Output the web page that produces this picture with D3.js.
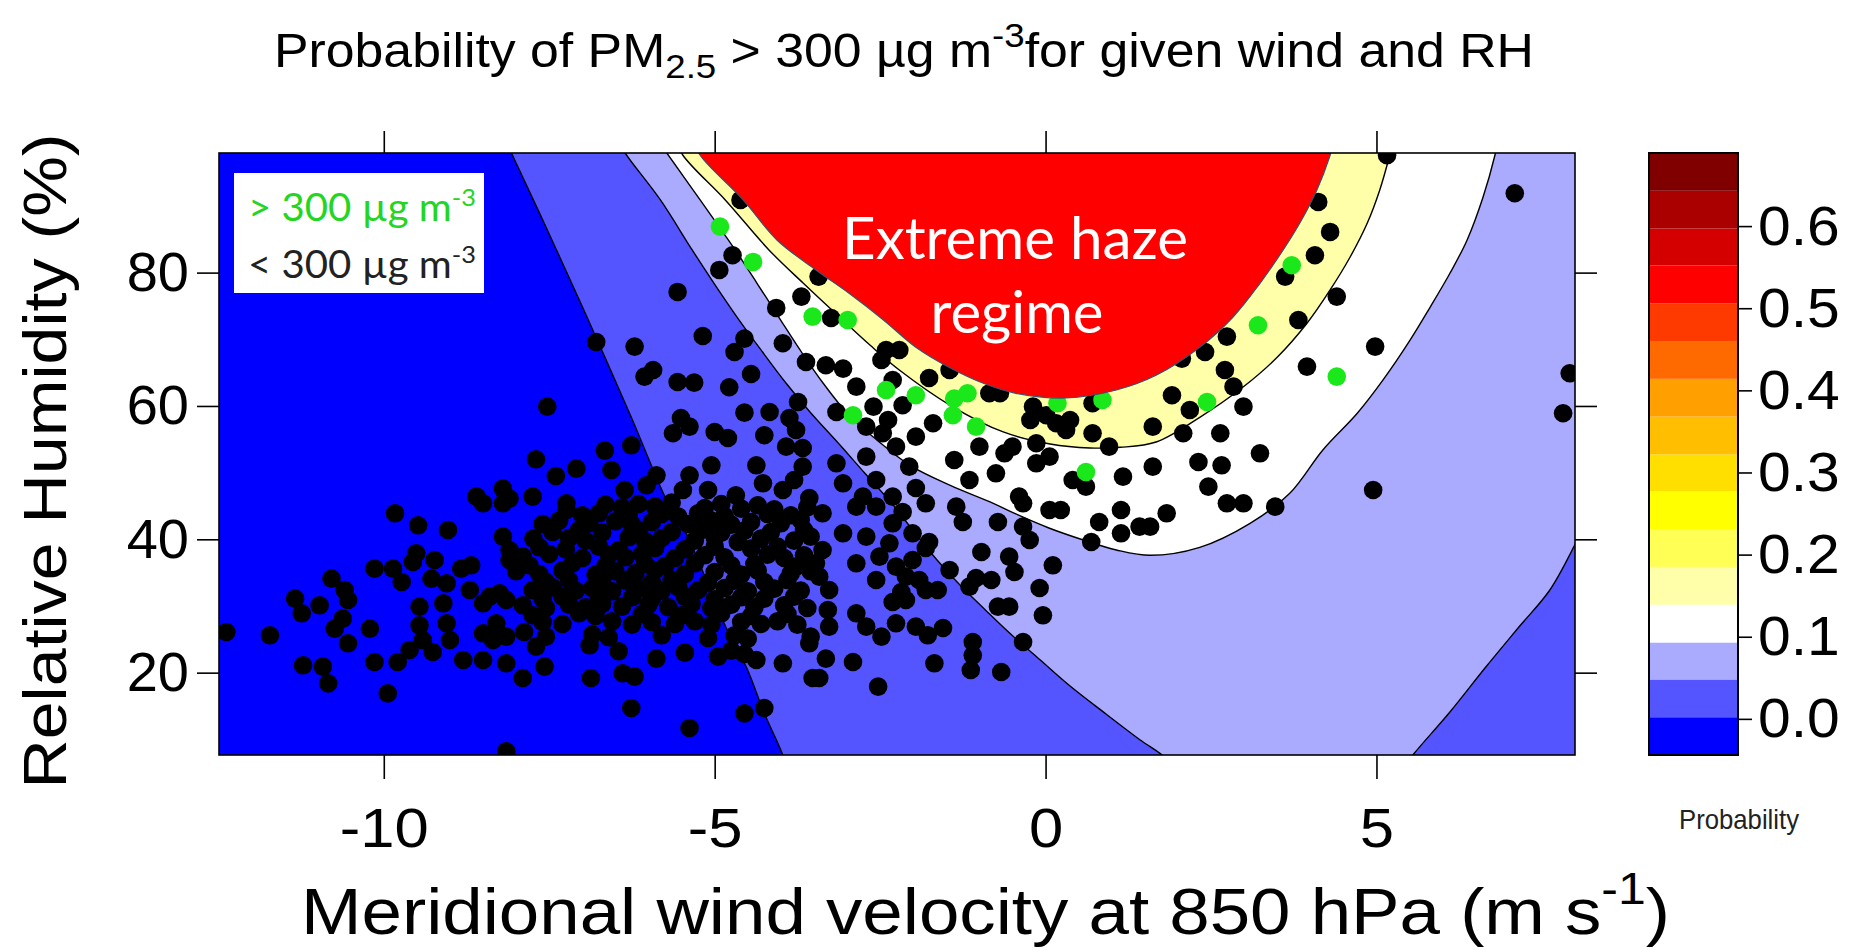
<!DOCTYPE html>
<html>
<head>
<meta charset="utf-8">
<script src="https://cdn.jsdelivr.net/npm/d3@7"></script>
<style>
  body { margin: 0; background: #fff; }
  svg text { font-family: "Liberation Sans", Arial, sans-serif; }
</style>
</head>
<body>
<div id="haze_viz"></div>
<script>

// probability contours, [wind (m/s), RH (%)]
var contour00 = [[-8.2,100.5],[-8.07,97.9],[-7.39,83.4],[-6.82,70.9],[-6.26,58.3],[-5.69,45.1],[-5.43,40.9],[-4.83,26.8],[-4.52,20.8],[-4.25,13.9],[-3.97,7.6],[-3.9,5]];
var contour05left = [[-6.5,100.5],[-6.35,97.9],[-5.82,90.9],[-5.34,83.4],[-5.01,78.4],[-4.66,73.3],[-4.30,68.4],[-3.92,63.4],[-3.56,59.1],[-3.13,54.4],[-2.73,49.9],[-2.30,45.1],[-1.97,40.9],[-1.64,36.9],[-1.29,33.1],[-0.91,29.4],[-0.54,25.9],[-0.08,21.9],[0.37,18.0],[0.90,13.9],[1.43,9.9],[1.81,7.2],[1.95,5]];
var contour05right = [[5.35,5],[5.55,7.65],[6.11,14.1],[6.64,20.7],[7.14,26.7],[7.62,32.4],[8.01,39.4],[8.22,43.6]];
var contour10 = [[-5.9,100.5],[-5.72,97.9],[-5.22,90.9],[-4.69,83.4],[-4.36,78.4],[-4.03,73.3],[-3.71,68.4],[-3.36,63.4],[-2.97,58.6],[-2.55,54.9],[-2.05,51.1],[-1.44,48.1],[-0.79,45.4],[-0.45,43.8],[0.05,41.7],[0.57,39.9],[1.07,38.4],[1.58,37.6],[2.33,38.8],[3.09,42.4],[3.69,46.9],[4.19,53.4],[4.71,58.9],[5.10,63.9],[5.51,69.9],[5.81,74.8],[6.11,79.9],[6.37,84.9],[6.61,91.3],[6.79,97.6],[6.85,100.5]];
var contour15 = [[-5.62,100.5],[-5.48,97.6],[-4.84,90.9],[-4.18,83.4],[-3.66,78.4],[-3.10,73.2],[-2.65,69.1],[-2.21,65.4],[-1.44,60.1],[-0.64,56.1],[0.07,54.3],[0.67,53.7],[1.13,53.8],[1.67,54.6],[2.33,58.3],[2.98,62.8],[3.50,67.3],[3.95,72.4],[4.30,77.4],[4.60,82.3],[4.86,87.4],[5.05,92.4],[5.20,97.6],[5.27,100.5]];
var hazeEdge = [[-5.36,100.5],[-5.22,97.6],[-4.57,90.9],[-4.06,84.9],[-3.47,80.4],[-2.97,76.9],[-2.45,72.9],[-1.96,68.8],[-1.46,65.8],[-0.94,63.4],[-0.45,61.9],[0.31,61.2],[1.07,62.4],[1.67,64.6],[2.33,68.8],[2.83,73.3],[3.24,78.4],[3.59,83.4],[3.84,87.4],[4.10,92.4],[4.30,97.6],[4.38,100.5]];

// days with PM2.5 < 300
var blackPts = [
  [-4.73,82.6],[-4.93,80.4],[-5.56,77.1],[-3.69,76.4],[-4.07,74.7],[-5.18,70.5],[-6.79,69.6],[-6.21,68.9],[-4.55,70.1],[-4.70,68.1],
  [-3.97,69.4],[-3.62,66.6],[-5.93,65.4],[-6.06,64.4],[-5.56,63.6],[-5.31,63.5],[-4.45,64.8],[-4.78,62.8],[-7.53,59.9],[-4.55,59.0],
  [-3.74,60.6],[-4.17,59.1],[-5.51,58.2],[-5.38,56.9],[-5.63,55.9],[-5.00,56.1],[-4.80,55.2],[-4.25,55.6],[-3.87,58.2],[-3.77,56.4],
  [-3.92,53.9],[-3.67,53.7],[-6.26,54.1],[-6.66,53.3],[-7.70,52.0],[-7.09,50.6],[-7.40,49.5],[-6.56,50.4],[-5.05,51.1],[-4.37,51.1],
  [-5.88,49.6],[-5.38,49.6],[-3.67,50.9],[-7.75,46.4],[-7.24,45.4],[-6.36,47.4],[-6.03,48.1],[-5.48,47.4],[-5.10,47.4],[-4.68,46.6],
  [-4.27,48.4],[-3.97,47.4],[-3.57,46.2],[-3.80,48.9],
  [-3.24,73.2],[-2.41,68.4],[-2.21,68.4],[-2.48,66.9],[-3.32,66.1],[-3.06,65.6],[-2.86,62.9],[-2.31,63.9],[-1.76,64.2],[-3.16,59.1],
  [-2.71,56.9],[-2.38,57.9],[-2.16,60.1],[-0.85,61.9],[-1.70,57.4],[-1.96,55.4],[-2.46,55.9],[-2.26,53.9],[-2.71,52.4],[-3.16,51.4],
  [-2.06,50.9],[-3.06,48.4],[-2.56,48.9],[-2.76,46.4],[-2.31,46.4],[-1.96,47.7],[-1.38,51.9],[-1.00,53.9],[-0.75,49.9],[-1.15,48.9],
  [-0.62,52.9],[-0.50,53.9],[-0.40,46.4],[-0.19,59.9],[0.01,58.6],[0.16,57.4],[0.31,56.4],[-0.14,54.4],[0.06,52.4],[-0.14,51.4],
  [0.71,60.4],[0.71,55.9],[0.96,53.9],[0.41,48.9],[0.61,47.9],[1.17,49.4],[1.62,50.9],[-1.45,65.4],
  [-4.61,90.9],[-3.43,79.4],[-0.69,61.9],[-2.60,59.9],[-0.23,57.9],[0.37,57.9],[1.62,56.9],
  [5.16,97.6],[7.09,91.9],[4.12,90.6],[4.30,86.1],[4.07,82.6],[3.62,79.4],[4.40,76.4],[3.82,72.9],[2.74,70.4],[2.41,68.1],
  [4.98,68.9],[7.92,64.9],[7.82,58.9],[3.95,65.9],[2.06,67.1],[2.71,65.4],[2.84,62.9],[1.91,61.6],[2.18,59.4],[2.99,59.9],
  [2.08,55.9],[2.64,55.9],[3.24,52.9],[2.31,51.6],[2.66,51.1],[2.46,47.9],[2.74,45.4],[2.99,45.4],[3.47,44.9],[1.83,43.9],
  [4.95,47.4],[1.58,41.9],
  [-0.34,45.4],[0.06,44.4],[0.23,44.4],[1.14,44.4],[0.81,42.6],[1.42,41.9],[1.14,40.9],[0.69,39.6],[-0.72,42.6],[-1.25,42.6],
  [-0.34,41.9],[-0.24,39.9],[-0.97,38.1],[-0.55,37.4],[-0.47,35.1],[0.11,36.1],[-0.09,32.7],[-1.45,35.4],[-1.05,34.2],[-0.82,33.9],
  [-1.15,32.9],[-0.72,29.9],[-0.55,29.9],[-0.04,28.6],[-0.34,24.6],[-1.10,24.6],[-1.10,22.6],[-1.13,20.4],[-0.67,20.1],[-1.68,21.4],
  [-2.53,17.9],[-2.91,21.6],[-3.32,22.1],[-3.42,19.2],[-1.55,26.7],[-1.78,25.6],[-2.26,27.4],[-2.48,25.4],[-2.71,26.9],[-2.86,28.9],
  [-2.31,30.6],[-2.11,30.9],[-3.27,26.9],[-3.29,29.4],[-3.27,32.4],[-1.81,32.4],[-1.63,32.4],[-1.91,33.9],[-2.11,34.4],[-2.56,33.9],
  [-2.86,36.4],[-2.51,37.4],[-2.26,35.9],[-2.01,36.9],[-1.81,38.7],[-1.76,39.6],[-2.01,40.9],[-2.31,42.4],[-2.71,40.4],[-3.06,40.9],
  [-3.37,43.9],[-2.86,44.9],[-2.56,44.9],[-2.16,44.1],[-1.81,45.4],[-1.35,44.9],[-3.37,38.4],[-3.47,36.4],[-3.42,34.4],[-2.36,39.4],
  [-1.96,26.9],[-2.18,32.1],
  [-7.74,40.1],[-7.24,44.4],[-7.88,26.1],[-7.90,19.2],[-6.87,19.2],[-6.39,19.9],[-6.21,19.4],[-6.26,14.7],[-5.38,11.7],[-4.55,13.9],
  [-4.25,14.7],[-4.95,22.4],[-5.88,22.1],[-6.89,24.1],[-7.57,20.9],[-7.70,23.9],[-3.52,19.2],[-3.97,21.4],[-3.57,24.4],[-4.37,21.9],
  [-6.65,45.2],[-6.40,44.8],[-6.15,45.3],[-5.90,44.9],[-5.65,45.5],[-5.15,44.7],[-4.90,45.3],[-4.60,44.6],[-4.35,45.1],[-4.10,44.5],[-3.60,44.8],
  [-7.00,43.6],[-6.75,43.9],[-6.30,43.5],[-5.80,43.8],[-5.55,43.4],[-5.25,43.9],[-4.85,43.5],[-4.20,43.8],[-3.85,43.6],
  [-7.60,42.3],[-7.35,42.8],[-6.90,42.4],[-6.50,42.7],[-6.25,42.2],[-5.95,42.6],[-5.40,42.3],[-5.05,42.8],[-4.75,42.2],[-4.45,42.6],[-4.00,42.4],[-3.70,42.9],
  [-7.45,41.1],[-7.05,41.4],[-6.70,41.0],[-6.15,41.3],[-5.65,41.1],[-5.20,41.4],[-4.90,41.0],[-4.55,41.3],[-4.15,41.1],[-3.65,41.4],
  [-7.20,40.2],[-6.95,39.8],[-6.30,40.3],[-6.05,39.7],[-5.80,40.2],[-5.30,39.8],[-5.00,40.3],[-4.65,39.6],[-4.30,40.1],[-3.80,39.8],[-3.55,40.4],
  [-7.65,38.8],[-7.25,38.5],[-6.75,38.9],[-6.45,38.4],[-5.90,38.7],[-5.45,38.5],[-5.00,38.9],[-4.45,38.6],[-4.05,38.9],
  [-7.90,37.4],[-7.50,37.8],[-7.00,37.2],[-6.60,37.7],[-6.35,37.3],[-6.10,37.8],[-5.60,37.2],[-5.15,37.6],[-4.85,37.3],[-4.20,37.7],[-3.95,37.2],[-3.65,37.6],
  [-7.80,36.1],[-7.15,36.4],[-6.65,36.0],[-6.05,36.3],[-5.75,36.0],[-5.30,36.4],[-4.75,36.1],[-4.40,36.3],[-3.75,36.0],
  [-8.00,35.2],[-7.65,34.8],[-7.30,35.3],[-6.80,34.7],[-6.50,35.2],[-6.20,34.9],[-5.90,35.4],[-5.45,34.8],[-5.00,35.1],[-4.60,34.7],[-4.35,35.3],[-3.85,34.9],[-3.55,35.2],
  [-7.55,33.6],[-7.20,33.9],[-6.70,33.5],[-6.35,33.8],[-5.95,33.6],[-5.65,33.9],[-5.10,33.5],[-4.70,33.8],[-4.25,33.6],[-3.90,33.9],
  [-7.75,32.4],[-7.45,32.8],[-7.10,32.3],[-6.85,32.7],[-6.55,32.2],[-6.15,32.6],[-5.80,32.3],[-5.55,32.8],[-5.25,32.4],[-4.85,32.7],[-4.50,32.2],[-4.10,32.6],[-3.70,32.3],
  [-7.60,31.1],[-7.30,31.4],[-6.75,31.0],[-6.25,31.3],[-5.95,31.1],[-5.45,31.4],[-5.00,31.0],[-4.60,31.3],[-4.25,31.1],[-3.80,31.4],
  [-7.90,30.1],[-7.55,29.7],[-7.20,30.2],[-6.95,29.8],[-6.70,30.3],[-6.40,29.9],[-6.00,30.2],[-5.70,29.8],[-5.35,30.3],[-5.05,29.7],[-4.75,30.2],[-4.40,29.8],[-3.95,30.1],[-3.60,29.7],
  [-7.75,28.6],[-7.05,28.9],[-6.80,28.5],[-6.10,28.8],[-5.50,28.6],[-4.90,28.9],[-4.45,28.5],[-3.90,28.8],
  [-7.60,27.6],[-7.30,27.3],[-6.55,27.7],[-6.25,27.2],[-5.95,27.6],[-5.60,27.3],[-5.30,27.7],[-5.05,27.2],[-4.60,27.6],[-4.30,27.3],[-4.05,27.7],[-3.75,27.2],
  [-7.55,25.4],[-6.85,25.7],[-6.60,25.3],[-5.80,25.6],[-5.10,25.2],[-4.70,25.6],[-4.50,25.1],[-3.55,25.4],
  [-6.45,23.2],[-5.45,23.0],[-4.75,23.3],[-4.55,22.8],
  [-12.38,26.1],[-11.72,25.6],[-9.83,43.9],[-9.48,42.1],[-9.03,41.4],[-8.20,40.4],[-8.10,38.4],[-8.10,36.9],[-9.51,37.9],[-9.56,36.6],
  [-9.23,36.9],[-10.14,35.6],[-9.86,35.6],[-9.73,33.6],[-9.28,34.1],[-9.05,33.4],[-8.83,35.6],[-8.68,36.1],[-10.79,34.1],[-10.59,32.4],
  [-10.54,30.9],[-11.34,31.1],[-11.24,28.9],[-10.97,30.1],[-10.62,28.1],[-10.74,26.6],[-10.54,24.4],[-10.21,26.6],[-11.22,21.1],[-10.92,20.9],
  [-10.84,18.4],[-10.14,21.6],[-9.94,16.9],[-9.79,21.6],[-9.61,23.4],[-9.46,29.9],[-9.46,27.1],[-9.41,24.9],[-9.26,23.1],[-9.10,30.4],
  [-9.05,27.4],[-9.00,24.9],[-8.80,21.9],[-8.70,32.4],[-8.50,30.4],[-8.40,31.4],[-8.25,31.9],[-8.15,30.9],[-8.50,25.9],[-8.30,27.4],
  [-8.35,24.9],[-8.15,25.4],[-8.50,21.9],[-8.15,21.4],[-8.50,45.4],[-8.20,45.4],[-8.15,8.2],[-8.60,46.4],[-8.20,47.6],[-8.10,46.1]
];

// days with PM2.5 > 300
var greenPts = [
  [-4.92,86.9],[-4.42,81.6],[-3.52,73.4],[-2.99,72.9],[-2.41,62.4],[-1.96,61.6],[-2.91,58.6],[-1.38,61.1],[-1.18,61.9],
  [-1.40,58.6],[-1.05,56.9],[0.18,60.4],[0.86,60.9],[0.61,50.1],[3.72,81.1],[3.21,72.1],[4.40,64.4],[2.44,60.6]
];

var xTicks = [-10, -5, 0, 5];
var yTicks = [20, 40, 60, 80];
var probTicks = [0, 0.1, 0.2, 0.3, 0.4, 0.5, 0.6];
var probLevels = [-0.044, 0.002, 0.048, 0.093, 0.139, 0.185, 0.231, 0.277, 0.322, 0.368, 0.414, 0.460, 0.506, 0.552, 0.597, 0.643, 0.689];
var probColors = ["#0000FF","#5555FF","#AAAAFF","#FFFFFF","#FFFFAA","#FFFF55","#FFFF00","#FFDF00","#FFBF00","#FFA000","#FF6A00","#FF3A00","#FF0000","#D40000","#AA0000","#800000"];

// set the dimensions and margins of the graph
var margin = {top: 153, right: 279, bottom: 195, left: 219},
    width = 1854 - margin.left - margin.right,
    height = 950 - margin.top - margin.bottom;

var svg = d3.select("#haze_viz")
  .append("svg")
    .attr("width", 1854)
    .attr("height", 950);

var g = svg.append("g")
    .attr("transform", "translate(" + margin.left + "," + margin.top + ")");

var x = d3.scaleLinear().domain([-12.49, 8.0]).range([0, width]);
var y = d3.scaleLinear().domain([7.65, 97.94]).range([height, 0]);

// widen a text a little, like the original figure
function stretch(sel, k) {
  sel.each(function() {
    var len = this.getComputedTextLength();
    d3.select(this).attr("textLength", len * k).attr("lengthAdjust", "spacingAndGlyphs");
  });
}

g.append("clipPath").attr("id", "plotclip")
  .append("rect").attr("width", width).attr("height", height);

var plot = g.append("g").attr("clip-path", "url(#plotclip)");

var line = d3.line()
    .x(function(d) { return x(d[0]); })
    .y(function(d) { return y(d[1]); })
    .curve(d3.curveCatmullRom.alpha(0.5));

// closed region from contour pieces and corner points outside the plot
function regionPath(parts) {
  var d = "";
  parts.forEach(function(p) {
    if (Array.isArray(p[0])) {
      var s = line(p);
      d += (d === "" ? s : "L" + s.slice(1));
    } else {
      d += (d === "" ? "M" : "L") + x(p[0]) + "," + y(p[1]);
    }
  });
  return d + "Z";
}

// background band
plot.append("rect").attr("width", width).attr("height", height).attr("fill", probColors[0]);

plot.append("path")
  .attr("d", regionPath([contour00, [20, -20], [20, 130]]))
  .attr("fill", probColors[1]);

plot.append("path")
  .attr("d", regionPath([contour05left, [1.95, -20], [5.35, -20], contour05right, [20, 43.6], [20, 130], [-6.5, 130]]))
  .attr("fill", probColors[2]);

plot.append("path")
  .attr("d", regionPath([contour10, [6.85, 130], [-5.9, 130]]))
  .attr("fill", probColors[3]);

plot.append("path")
  .attr("d", regionPath([contour15, [5.27, 130], [-5.62, 130]]))
  .attr("fill", probColors[4]);

// contour lines
[contour00, contour05left, contour05right, contour10, contour15].forEach(function(c) {
  plot.append("path")
    .attr("d", line(c))
    .attr("fill", "none")
    .attr("stroke", "#000")
    .attr("stroke-width", 1.4);
});

// points
plot.selectAll(".blk")
  .data(blackPts)
  .enter()
  .append("circle")
    .attr("cx", function(d) { return x(d[0]); })
    .attr("cy", function(d) { return y(d[1]); })
    .attr("r", 9.3)
    .attr("fill", "#000");

plot.selectAll(".grn")
  .data(greenPts)
  .enter()
  .append("circle")
    .attr("cx", function(d) { return x(d[0]); })
    .attr("cy", function(d) { return y(d[1]); })
    .attr("r", 9.3)
    .attr("fill", "#1BE81B");

// extreme haze overlay
plot.append("path")
  .attr("d", regionPath([hazeEdge, [4.38, 130], [-5.36, 130]]))
  .attr("fill", "#FF0000")
  .attr("stroke", "#3c5070")
  .attr("stroke-width", 1.2);

g.append("text")
  .attr("x", 796).attr("y", 106)
  .attr("text-anchor", "middle")
  .style("font-family", "Lato, 'Open Sans', sans-serif")
  .style("font-size", "58px")
  .style("fill", "#fff")
  .text("Extreme haze")
  .attr("textLength", 346).attr("lengthAdjust", "spacingAndGlyphs");

g.append("text")
  .attr("x", 798).attr("y", 180)
  .attr("text-anchor", "middle")
  .style("font-family", "Lato, 'Open Sans', sans-serif")
  .style("font-size", "58px")
  .style("fill", "#fff")
  .text("regime");

// legend box
g.append("rect")
  .attr("x", 15).attr("y", 20)
  .attr("width", 250).attr("height", 120)
  .attr("fill", "#fff");

var leg1 = g.append("text")
  .attr("x", 29).attr("y", 68)
  .style("font-family", "Lato, 'Open Sans', sans-serif")
  .style("font-size", "38px")
  .style("fill", "#22D622");
leg1.append("tspan").text("> 300 \u00b5g m");
leg1.append("tspan").attr("dy", -15).style("font-size", "24px").text("-3");
leg1.attr("textLength", 228).attr("lengthAdjust", "spacingAndGlyphs");

var leg2 = g.append("text")
  .attr("x", 29).attr("y", 125)
  .style("font-family", "Lato, 'Open Sans', sans-serif")
  .style("font-size", "38px")
  .style("fill", "#222");
leg2.append("tspan").text("< 300 \u00b5g m");
leg2.append("tspan").attr("dy", -15).style("font-size", "24px").text("-3");
leg2.attr("textLength", 228).attr("lengthAdjust", "spacingAndGlyphs");

// plot border
g.append("rect")
  .attr("width", width).attr("height", height)
  .attr("fill", "none").attr("stroke", "#000").attr("stroke-width", 1.6);

// axes
var plain = function(d) { return String(d); };
var xAxis = g.append("g")
  .attr("transform", "translate(0," + height + ")")
  .call(d3.axisBottom(x).tickValues(xTicks).tickFormat(plain).tickSize(24).tickPadding(28).tickSizeOuter(0));
var yAxis = g.append("g")
  .call(d3.axisLeft(y).tickValues(yTicks).tickFormat(plain).tickSize(22).tickPadding(8).tickSizeOuter(0));
g.append("g")
  .call(d3.axisTop(x).tickValues(xTicks).tickSize(22).tickFormat("").tickSizeOuter(0));
g.append("g")
  .attr("transform", "translate(" + width + ",0)")
  .call(d3.axisRight(y).tickValues(yTicks).tickSize(22).tickFormat("").tickSizeOuter(0));

g.selectAll(".domain").remove();
g.selectAll(".tick line").attr("stroke", "#000").attr("stroke-width", 1.6);
g.selectAll(".tick text")
  .attr("fill", "#000")
  .style("font-family", "'Liberation Sans', Arial, sans-serif")
  .style("font-size", "56px");
xAxis.selectAll(".tick text").call(stretch, 1.1);

// colour key
var keyX = 1649, keyW = 89;
var cy = d3.scaleLinear()
  .domain([probLevels[0], probLevels[probLevels.length - 1]])
  .range([margin.top + height, margin.top]);

var key = svg.append("g");
key.selectAll("rect.band")
  .data(probColors)
  .enter()
  .append("rect")
    .attr("x", keyX)
    .attr("y", function(d, i) { return cy(probLevels[i + 1]); })
    .attr("width", keyW)
    .attr("height", function(d, i) { return cy(probLevels[i]) - cy(probLevels[i + 1]); })
    .attr("fill", function(d) { return d; });
key.append("rect")
  .attr("x", keyX).attr("y", margin.top)
  .attr("width", keyW).attr("height", height)
  .attr("fill", "none").attr("stroke", "#000").attr("stroke-width", 2);

var keyAxis = key.append("g")
  .attr("transform", "translate(" + (keyX + keyW) + ",0)")
  .call(d3.axisRight(cy).tickValues(probTicks).tickFormat(d3.format(".1f")).tickSize(14).tickPadding(6).tickSizeOuter(0));
keyAxis.select(".domain").remove();
keyAxis.selectAll(".tick line").attr("stroke", "#000").attr("stroke-width", 1.6);
keyAxis.selectAll(".tick text")
  .attr("fill", "#000")
  .style("font-family", "'Liberation Sans', Arial, sans-serif")
  .style("font-size", "56px")
  .call(stretch, 1.05);

svg.append("text")
  .attr("x", 1679).attr("y", 829)
  .style("font-size", "28px")
  .style("fill", "#222")
  .text("Probability")
  .attr("textLength", 120).attr("lengthAdjust", "spacingAndGlyphs");

// title and axis labels
var title = svg.append("text")
  .attr("x", 274).attr("y", 67)
  .style("font-size", "48px")
  .style("fill", "#000");
title.append("tspan").text("Probability of PM");
title.append("tspan").attr("dy", 11).style("font-size", "34px").text("2.5");
title.append("tspan").attr("dy", -11).text(" > 300 \u00b5g m");
title.append("tspan").attr("dy", -20).style("font-size", "34px").text("-3");
title.append("tspan").attr("dy", 20).text("for given wind and RH");
title.attr("textLength", 1260).attr("lengthAdjust", "spacingAndGlyphs");

var xlab = svg.append("text")
  .attr("x", 301).attr("y", 934)
  .style("font-size", "64px")
  .style("fill", "#000");
xlab.append("tspan").text("Meridional wind velocity at 850 hPa (m s");
xlab.append("tspan").attr("dy", -30).style("font-size", "44px").text("-1");
xlab.append("tspan").attr("dy", 30).text(")");
xlab.attr("textLength", 1369).attr("lengthAdjust", "spacingAndGlyphs");

svg.append("text")
  .attr("transform", "translate(66,461) rotate(-90)")
  .attr("text-anchor", "middle")
  .style("font-size", "62px")
  .style("fill", "#000")
  .text("Relative Humidity (%)")
  .attr("textLength", 655).attr("lengthAdjust", "spacingAndGlyphs");

</script>
</body>
</html>
